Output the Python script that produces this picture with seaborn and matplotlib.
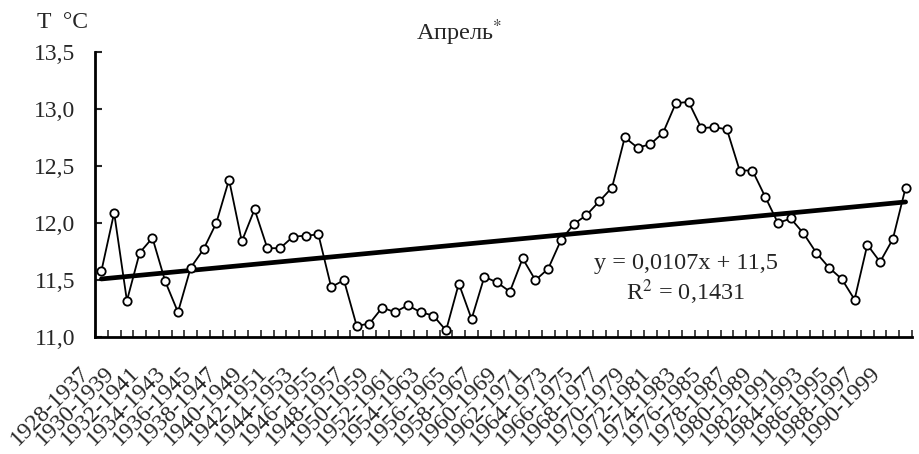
import numpy as np
import pandas as pd
import matplotlib
matplotlib.use('Agg')
import matplotlib.pyplot as plt
import matplotlib.transforms as mtransforms
import seaborn as sns

# Data: April mean temperature, 10-year moving periods
start_years = list(range(1928, 1992))
periods = [f"{y}-{y + 9}" for y in start_years]
temps = [11.58, 12.09, 11.32, 11.74, 11.87, 11.49, 11.22, 11.61, 11.77, 12.00,
         12.38, 11.84, 12.12, 11.78, 11.78, 11.88, 11.89, 11.90, 11.44, 11.50,
         11.10, 11.12, 11.26, 11.22, 11.28, 11.22, 11.19, 11.06, 11.47, 11.16,
         11.53, 11.48, 11.40, 11.69, 11.50, 11.60, 11.85, 11.99, 12.07, 12.19,
         12.31, 12.75, 12.66, 12.69, 12.79, 13.05, 13.06, 12.83, 12.84, 12.82,
         12.46, 12.46, 12.23, 12.00, 12.04, 11.91, 11.74, 11.61, 11.51, 11.33,
         11.81, 11.66, 11.86, 12.31]
trend_slope = 0.0107
trend_intercept = 11.5
y_ticks = [11.0, 11.5, 12.0, 12.5, 13.0, 13.5]

df = pd.DataFrame({'n': np.arange(1, len(temps) + 1), 'period': periods, 'T': temps})
df['trend'] = trend_slope * df['n'] + trend_intercept

sns.set_style('ticks')
plt.rcParams['font.family'] = ['Liberation Serif', 'DejaVu Serif']
plt.rcParams['mathtext.fontset'] = 'stix'

fs = 17
fig = plt.figure(figsize=(9.19, 4.54), dpi=100)
ax = fig.add_axes([95 / 919, 1 - 337.3 / 454, (912 - 95) / 919, (337.3 - 51.7) / 454])

sns.lineplot(data=df, x='n', y='trend', ax=ax, color='black', linewidth=3.4)
sns.lineplot(data=df, x='n', y='T', ax=ax, color='black', linewidth=1.3,
             marker='o', markersize=6, markerfacecolor='white',
             markeredgecolor='black', markeredgewidth=1.3)

ax.set_xlim(0.5, len(temps) + 0.5)
ax.set_ylim(11.0, 13.5)
ax.set_xlabel('')
ax.set_ylabel('')

# y axis
ax.set_yticks(y_ticks)
ax.set_yticklabels([f"{v:.1f}".replace('.', ',') for v in y_ticks], fontsize=fs)
ax.tick_params(axis='y', direction='in', length=5, width=1.5, pad=14)

# x axis: labels every other period, ticks between categories
ax.set_xticks(df['n'][::2])
ax.set_xticklabels(df['period'][::2], fontsize=fs, rotation=45,
                   ha='right', va='top', rotation_mode='anchor')
ax.tick_params(axis='x', which='major', length=0, pad=0)
ax.set_xticks(np.arange(0.5, len(temps) + 1.0, 1.0), minor=True)
ax.tick_params(axis='x', which='minor', direction='in', length=5, width=1.2)

offset = mtransforms.ScaledTranslation(-23 / 100, -25 / 100, fig.dpi_scale_trans)
for lbl in ax.get_xticklabels():
    lbl.set_transform(lbl.get_transform() + offset)

for side in ['top', 'right']:
    ax.spines[side].set_visible(False)
for side in ['left', 'bottom']:
    ax.spines[side].set_linewidth(2)
    ax.spines[side].set_color('black')

# texts
fig.text(37 / 919, 1 - 22 / 454, 'T  °C', fontsize=fs, ha='left', va='center')
fig.text(459 / 919, 1 - 33 / 454, 'Апрель$^{*}$', fontsize=fs + 0.5, ha='center', va='center')
fig.text(686 / 919, 1 - 263 / 454, 'y = 0,0107x + 11,5', fontsize=fs + 0.5, ha='center', va='center')
fig.text(686 / 919, 1 - 292 / 454, 'R$^{2}$ = 0,1431', fontsize=fs + 0.5, ha='center', va='center')

fig.savefig('out.png', dpi=100, facecolor='white')
